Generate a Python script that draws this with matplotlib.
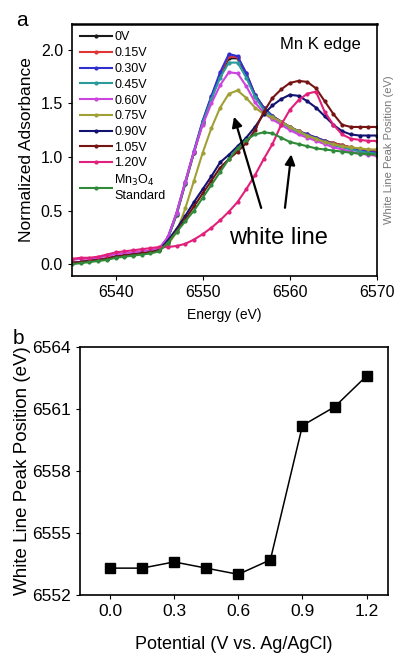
import matplotlib
matplotlib.use('Agg')
import matplotlib.pyplot as plt

plt.rcParams['font.family'] = ['Liberation Sans', 'DejaVu Sans']

# --- panel a: XANES spectra, energy grid 6535..6570 eV ---
energy = list(range(6535, 6571))

a_0V   = [0.01,0.02,0.03,0.04,0.05,0.07,0.08,0.09,0.10,0.11,0.13,
          0.24,0.46,0.75,1.04,1.32,1.55,1.76,1.92,1.92,1.77,1.58,1.46,1.38,1.33,1.28,
          1.24,1.21,1.18,1.15,1.13,1.11,1.09,1.07,1.06,1.05]
a_015V = [0.02,0.02,0.03,0.04,0.06,0.07,0.08,0.09,0.10,0.12,0.14,
          0.25,0.47,0.76,1.05,1.33,1.56,1.77,1.94,1.93,1.78,1.58,1.46,1.38,1.33,1.28,
          1.24,1.21,1.18,1.15,1.13,1.11,1.09,1.07,1.06,1.05]
a_030V = [0.01,0.02,0.03,0.04,0.05,0.07,0.08,0.09,0.10,0.11,0.14,
          0.25,0.48,0.77,1.06,1.34,1.57,1.79,1.96,1.94,1.78,1.58,1.46,1.38,1.33,1.28,
          1.24,1.21,1.18,1.15,1.12,1.10,1.08,1.06,1.05,1.04]
a_045V = [0.01,0.02,0.03,0.04,0.05,0.07,0.08,0.09,0.10,0.11,0.13,
          0.24,0.47,0.76,1.05,1.32,1.54,1.74,1.88,1.88,1.74,1.56,1.44,1.37,1.32,1.27,
          1.23,1.20,1.17,1.14,1.11,1.09,1.07,1.05,1.04,1.03]
a_060V = [0.04,0.05,0.05,0.06,0.08,0.09,0.10,0.11,0.12,0.13,0.15,
          0.25,0.48,0.77,1.05,1.30,1.50,1.67,1.79,1.78,1.66,1.51,1.41,1.35,1.30,1.25,
          1.21,1.18,1.15,1.12,1.09,1.07,1.05,1.03,1.02,1.01]
a_075V = [0.01,0.02,0.03,0.04,0.05,0.07,0.08,0.09,0.10,0.11,0.13,
          0.18,0.30,0.52,0.78,1.04,1.27,1.46,1.59,1.62,1.55,1.46,1.40,1.37,1.33,1.28,
          1.24,1.20,1.17,1.14,1.12,1.10,1.09,1.08,1.07,1.07]
a_090V = [0.01,0.02,0.03,0.04,0.05,0.07,0.08,0.09,0.10,0.11,0.13,
          0.22,0.33,0.45,0.58,0.70,0.82,0.95,1.02,1.10,1.18,1.28,1.40,1.48,1.54,1.58,
          1.57,1.52,1.46,1.38,1.30,1.24,1.21,1.20,1.20,1.20]
a_105V = [0.01,0.02,0.03,0.04,0.05,0.07,0.08,0.09,0.10,0.11,0.13,
          0.20,0.31,0.42,0.54,0.66,0.78,0.90,0.98,1.05,1.13,1.25,1.42,1.55,1.63,1.69,
          1.71,1.70,1.64,1.52,1.40,1.30,1.28,1.28,1.28,1.28]
a_120V = [0.05,0.06,0.06,0.07,0.09,0.11,0.12,0.13,0.14,0.15,0.16,
          0.16,0.17,0.19,0.23,0.28,0.34,0.41,0.49,0.58,0.70,0.83,0.98,1.12,1.30,1.44,
          1.53,1.59,1.61,1.42,1.30,1.21,1.17,1.16,1.15,1.15]
a_mn3o4 = [0.00,0.01,0.02,0.03,0.04,0.06,0.07,0.08,0.09,0.10,0.12,
           0.20,0.30,0.40,0.50,0.62,0.74,0.86,0.98,1.08,1.16,1.21,1.23,1.22,1.18,1.14,
           1.12,1.10,1.08,1.07,1.06,1.05,1.04,1.03,1.03,1.02]

series = [
    ('0V', a_0V, '#1a1a1a'),
    ('0.15V', a_015V, '#e03535'),
    ('0.30V', a_030V, '#3030d0'),
    ('0.45V', a_045V, '#2a9a9a'),
    ('0.60V', a_060V, '#cc44dd'),
    ('0.75V', a_075V, '#a0a035'),
    ('0.90V', a_090V, '#121270'),
    ('1.05V', a_105V, '#761414'),
    ('1.20V', a_120V, '#e0207a'),
    ('Mn$_3$O$_4$\nStandard', a_mn3o4, '#2f8a3a'),
]

# --- panel b: white line peak position ---
potential = [0.0, 0.15, 0.30, 0.45, 0.60, 0.75, 0.90, 1.05, 1.20]
peak_pos = [6553.3, 6553.3, 6553.6, 6553.3, 6553.0, 6553.7, 6560.2, 6561.1, 6562.6]

W, H = 396, 656
fig = plt.figure(figsize=(W / 100, H / 100), dpi=100)

def box(l, r, t, b):
    return [l / W, 1 - b / H, (r - l) / W, (b - t) / H]

ax1 = fig.add_axes(box(72, 377, 24, 276))
for lab, y, c in series:
    ax1.plot(energy, y, '-', color=c, lw=1.5, marker='o', ms=2, label=lab)
ax1.set_xlim(6535, 6570)
ax1.set_ylim(-0.11, 2.24)
ax1.set_xticks([6540, 6550, 6560, 6570])
ax1.set_yticks([0.0, 0.5, 1.0, 1.5, 2.0])
ax1.set_yticklabels(['0.0', '0.5', '1.0', '1.5', '2.0'])
ax1.tick_params(labelsize=11.5, direction='out', length=3)
ax1.set_xlabel('Energy (eV)', fontsize=10, labelpad=6)
ax1.set_ylabel('Normalized Adsorbance', fontsize=12.5, labelpad=5)
for s in ax1.spines.values():
    s.set_linewidth(1.2)
ax1.spines['top'].set_linewidth(1.8)
ax1.legend(loc='upper left', fontsize=9, frameon=False, handlelength=2.6,
           handletextpad=0.2, labelspacing=0.3, borderaxespad=0.2,
           bbox_to_anchor=(0.0, 1.0))
ax1.text(6563.5, 2.05, 'Mn K edge', fontsize=12, ha='center', va='center')
ax1.text(6558.7, 0.24, 'white line', fontsize=17, ha='center', va='center')
ax1.annotate('', xy=(6553.5, 1.40), xytext=(6556.8, 0.50),
             arrowprops=dict(arrowstyle='-|>', color='black', lw=1.6, mutation_scale=15))
ax1.annotate('', xy=(6560.2, 1.05), xytext=(6559.4, 0.50),
             arrowprops=dict(arrowstyle='-|>', color='black', lw=1.6, mutation_scale=15))

ax2 = fig.add_axes(box(80, 388, 347, 595))
ax2.plot(potential, peak_pos, '-', color='black', lw=1.1, marker='s', ms=7.5)
ax2.set_xlim(-0.14, 1.30)
ax2.set_ylim(6552, 6564)
ax2.set_xticks([0.0, 0.3, 0.6, 0.9, 1.2])
ax2.set_xticklabels(['0.0', '0.3', '0.6', '0.9', '1.2'])
ax2.set_yticks([6552, 6555, 6558, 6561, 6564])
ax2.tick_params(labelsize=12.5, direction='out', length=3)
ax2.set_xlabel('Potential (V vs. Ag/AgCl)', fontsize=13, labelpad=12)
ax2.set_ylabel('White Line Peak Position (eV)', fontsize=13.5, labelpad=1)
for s in ax2.spines.values():
    s.set_linewidth(1.2)

fig.text(22 / W, 1 - 20 / H, 'a', fontsize=15, ha='center', va='center')
fig.text(18 / W, 1 - 338 / H, 'b', fontsize=15, ha='center', va='center')
# label of the neighbouring panel peeking in at the right edge
fig.text(389 / W, 1 - 150 / H, 'White Line Peak Position (eV)', fontsize=8,
         rotation=90, ha='center', va='center', color='#777777')

fig.savefig('out.png', dpi=100)
